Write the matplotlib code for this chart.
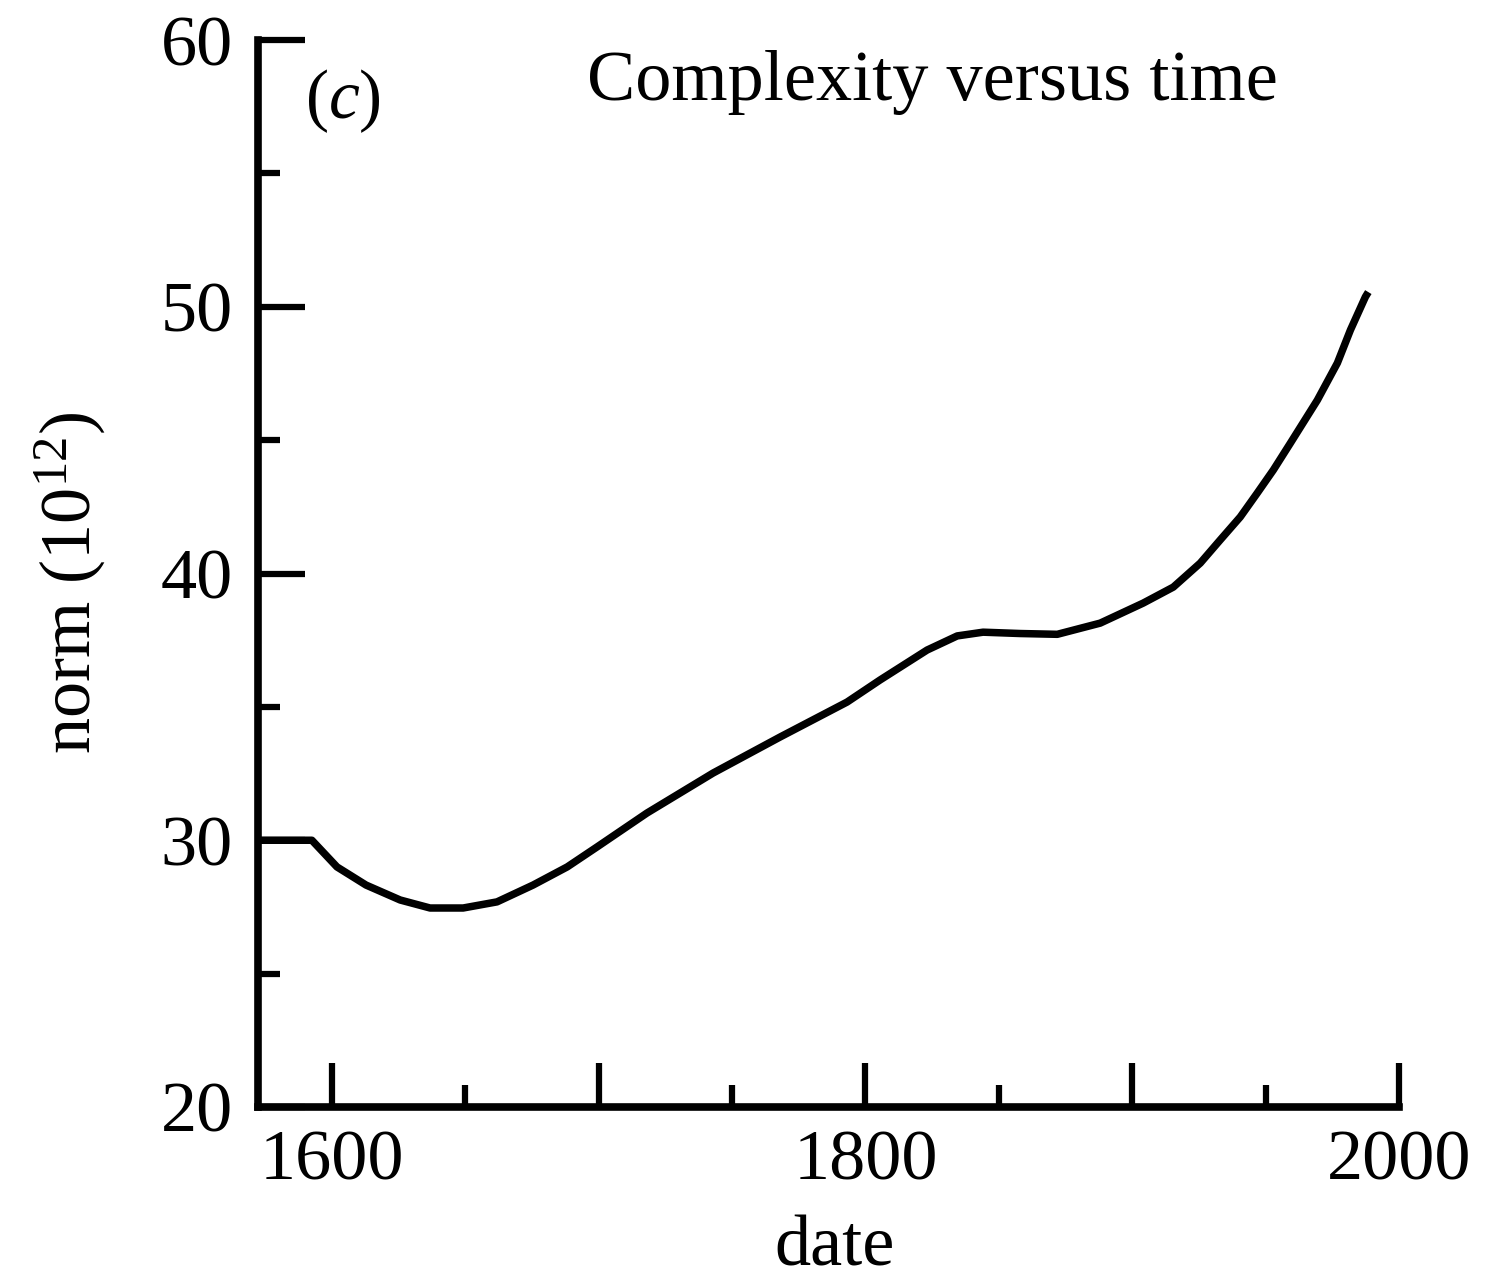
import matplotlib
matplotlib.use('Agg')
import matplotlib.pyplot as plt
from matplotlib.ticker import MultipleLocator

# values (year, norm in units of 10^12)
years = [1572.3, 1592.5, 1601.9, 1612.8, 1625.6, 1636.8, 1649.2, 1661.9, 1675.4,
         1688.2, 1699.4, 1718.1, 1742.9, 1768.0, 1793.1, 1805.5, 1823.1, 1834.4,
         1844.1, 1858.0, 1871.9, 1888.0, 1904.1, 1915.4, 1925.5, 1933.0, 1940.5,
         1946.9, 1952.9, 1959.3, 1969.4, 1976.9, 1981.8, 1987.4, 1988.5]
norm = [30.0, 30.0, 29.0, 28.32, 27.76, 27.46, 27.46, 27.69, 28.32,
        29.0, 29.75, 31.02, 32.52, 33.87, 35.18, 36.01, 37.13, 37.66,
        37.8, 37.75, 37.72, 38.14, 38.89, 39.49, 40.39, 41.26, 42.12,
        43.02, 43.88, 44.89, 46.5, 47.89, 49.13, 50.37, 50.55]

x_major = [1600, 1700, 1800, 1900, 2000]
x_labels = ['1600', '', '1800', '', '2000']
y_major = [20, 30, 40, 50, 60]

plt.rcParams['font.family'] = ['Liberation Serif', 'DejaVu Serif']
plt.rcParams['mathtext.fontset'] = 'custom'
plt.rcParams['mathtext.rm'] = 'Liberation Serif'
plt.rcParams['mathtext.it'] = 'Liberation Serif:italic'

fig = plt.figure(figsize=(14.94, 12.8), dpi=100)
ax = fig.add_axes([258 / 1494, 173 / 1280, (1399 - 258) / 1494, 1067 / 1280])

ax.plot(years, norm, color='black', linewidth=5.4, solid_capstyle='butt',
        solid_joinstyle='round')

ax.set_xlim(1572.3, 2000)
ax.set_ylim(20, 60)
ax.set_xticks(x_major)
ax.set_xticklabels(x_labels)
ax.xaxis.set_minor_locator(MultipleLocator(50))
ax.set_yticks(y_major)
ax.yaxis.set_minor_locator(MultipleLocator(5))

for side in ['top', 'right']:
    ax.spines[side].set_visible(False)
for side in ['left', 'bottom']:
    ax.spines[side].set_linewidth(5.5)

ax.tick_params(axis='both', which='both', direction='in', width=4.5, color='black')
ax.tick_params(axis='x', which='major', length=32, pad=16, labelsize=52)
ax.tick_params(axis='x', which='minor', length=16)
ax.tick_params(axis='y', which='major', length=34, pad=18, labelsize=52)
ax.tick_params(axis='y', which='minor', length=16)

ax.text(0.5907, 0.9438, 'Complexity versus time', transform=ax.transAxes,
        ha='center', va='baseline', fontsize=52)
ax.text(0.041, 0.927, r'$(c)$', transform=ax.transAxes,
        ha='left', va='baseline', fontsize=50)

fig.text(70 / 1494, 1 - 583 / 1280, r'norm (10$^{12}$)', rotation=90,
         ha='center', va='center', fontsize=52)
fig.text(835 / 1494, 1 - 1265 / 1280, 'date', ha='center', va='baseline', fontsize=52)

fig.savefig('out.png', dpi=100, facecolor='white')
